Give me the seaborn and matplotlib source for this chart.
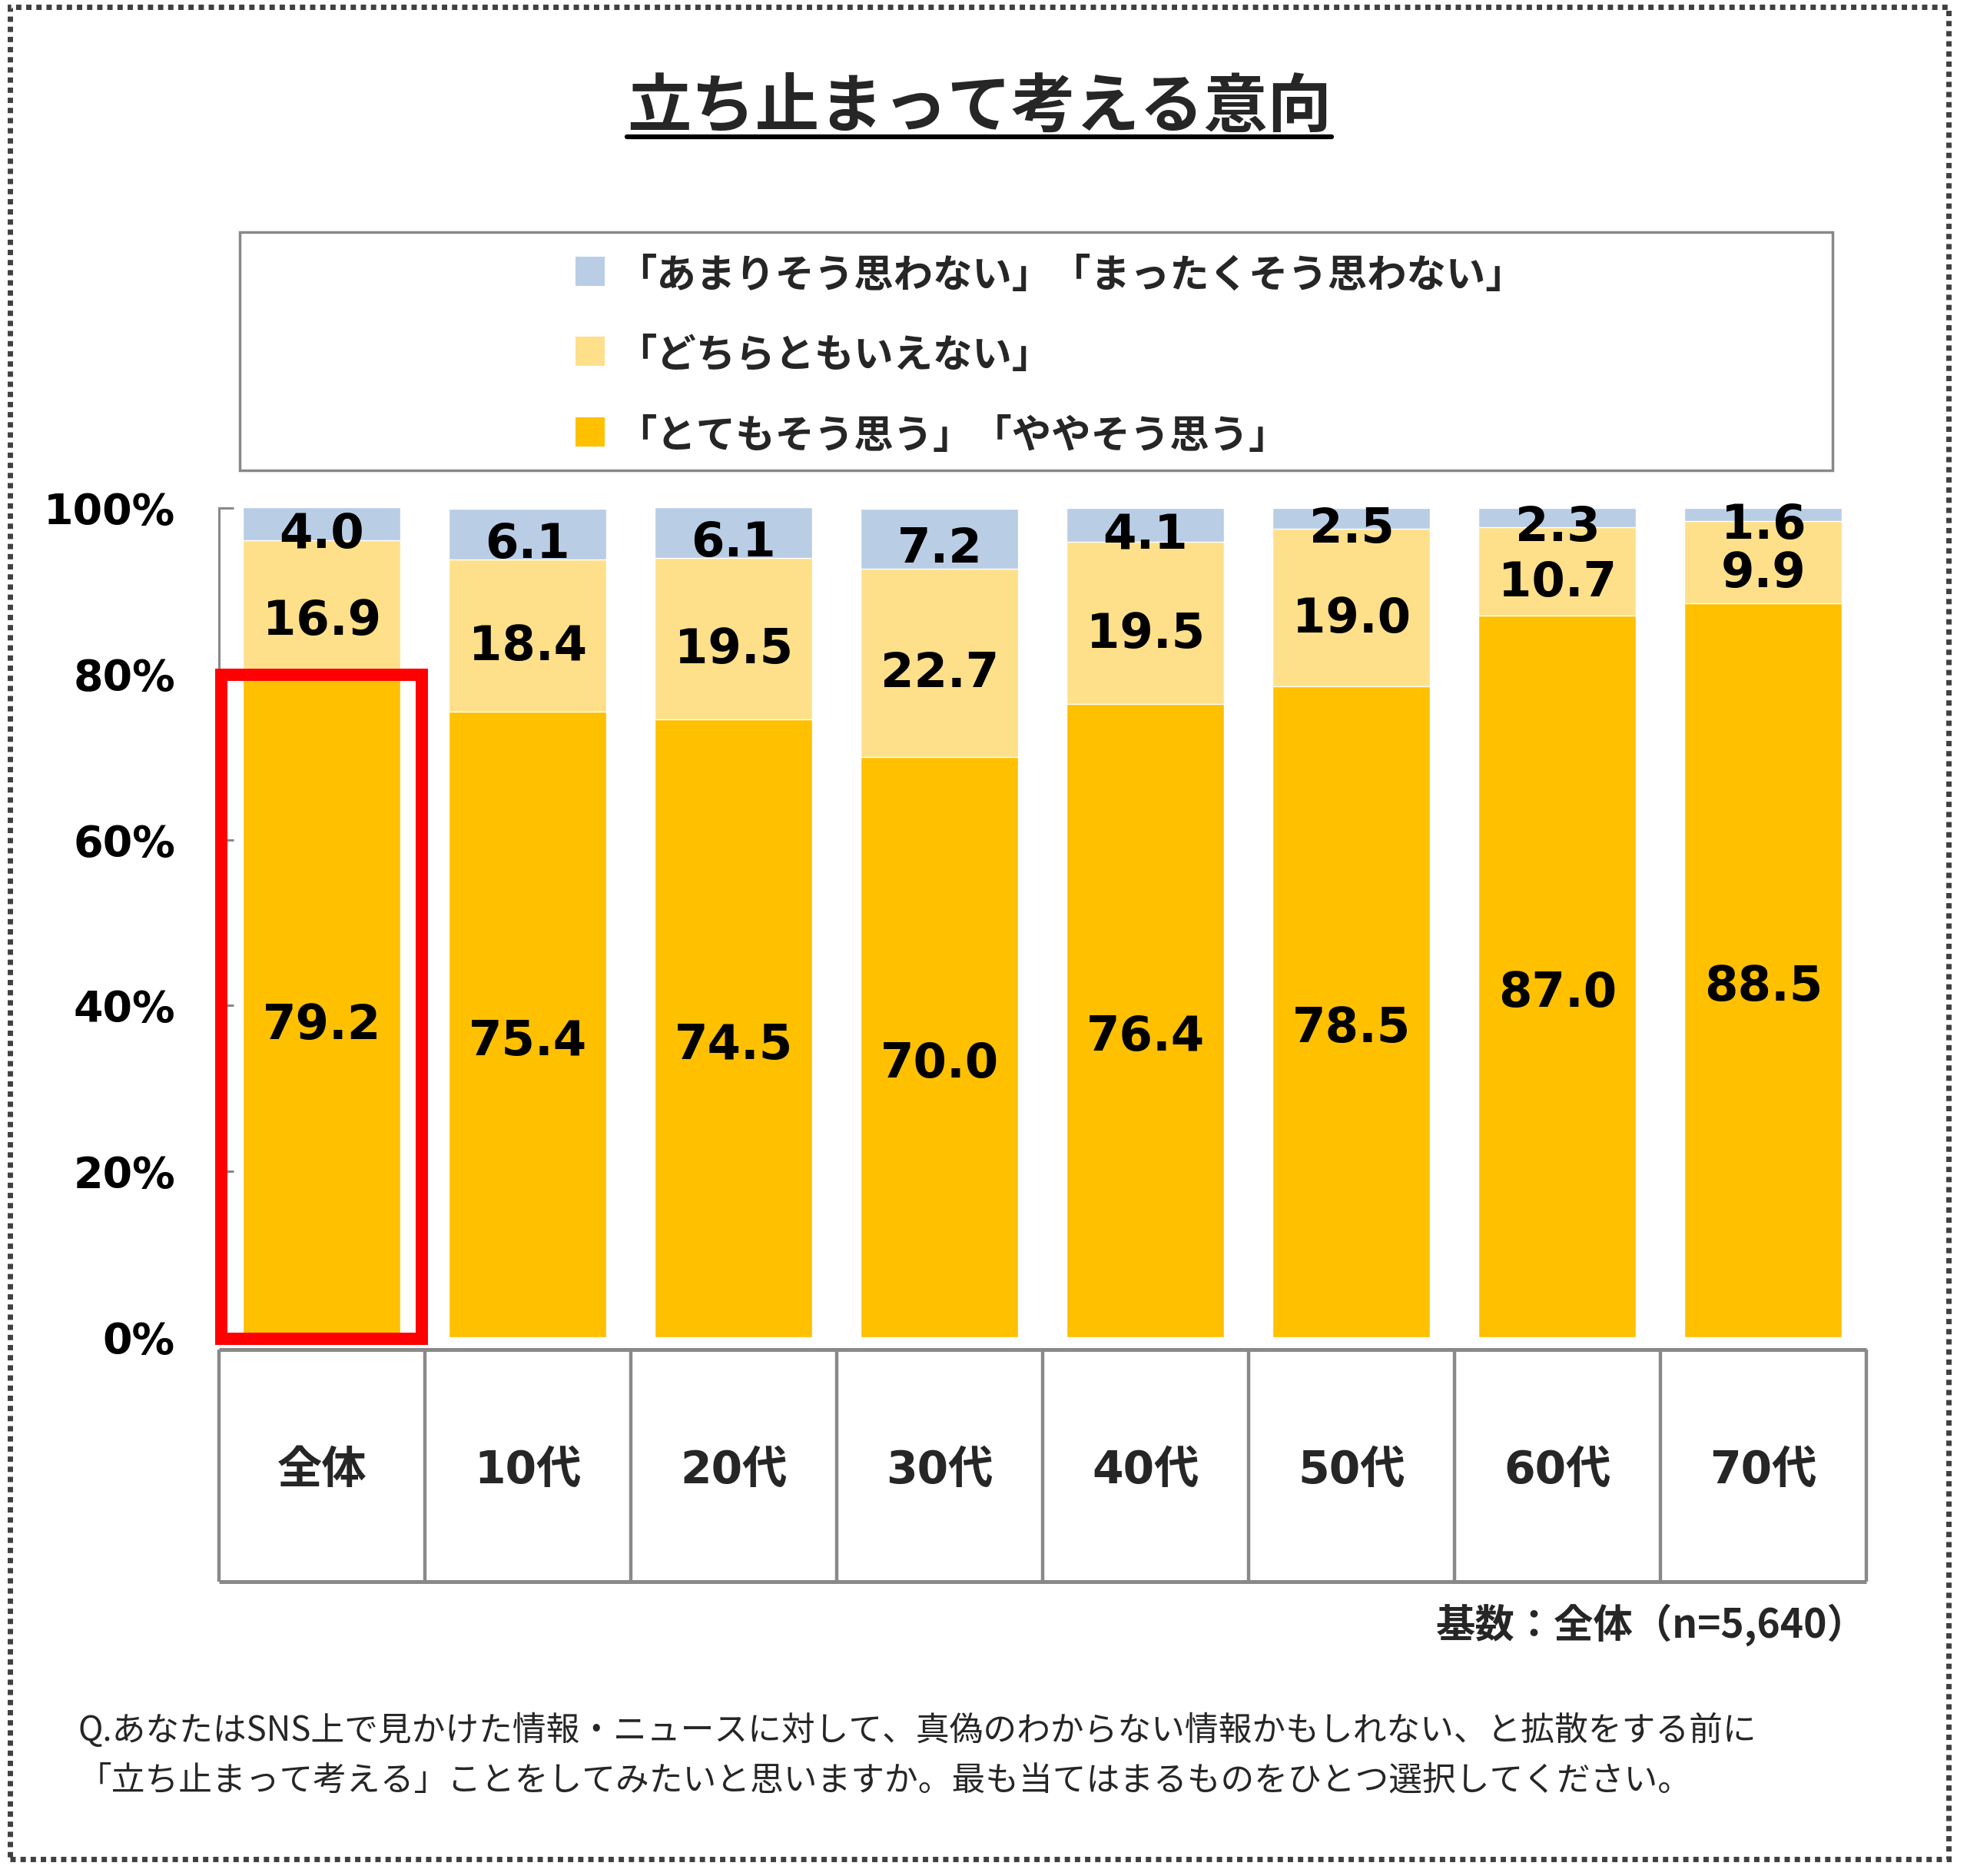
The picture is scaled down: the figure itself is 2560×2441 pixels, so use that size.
import pandas as pd
import seaborn as sns
import matplotlib.pyplot as plt
from matplotlib.patches import Rectangle
from matplotlib.lines import Line2D

# data
categories = ["全体", "10代", "20代", "30代", "40代", "50代", "60代", "70代"]
agree = [79.2, 75.4, 74.5, 70.0, 76.4, 78.5, 87.0, 88.5]
neutral = [16.9, 18.4, 19.5, 22.7, 19.5, 19.0, 10.7, 9.9]
disagree = [4.0, 6.1, 6.1, 7.2, 4.1, 2.5, 2.3, 1.6]

series_labels = ["「あまりそう思わない」「まったくそう思わない」",
                 "「どちらともいえない」",
                 "「とてもそう思う」「ややそう思う」"]
series_colors = ["#B9CDE5", "#FFE08A", "#FFC000"]
y_ticks = [0, 20, 40, 60, 80, 100]
y_tick_labels = ["0%", "20%", "40%", "60%", "80%", "100%"]

title = "立ち止まって考える意向"
base_note = "基数：全体（n=5,640）"
question = ["Q.あなたはSNS上で見かけた情報・ニュースに対して、真偽のわからない情報かもしれない、と拡散をする前に",
            "「立ち止まって考える」ことをしてみたいと思いますか。最も当てはまるものをひとつ選択してください。"]

df = pd.DataFrame({"cat": categories, "agree": agree, "neutral": neutral, "disagree": disagree})
df["lvl1"] = df["agree"]
df["lvl2"] = df["agree"] + df["neutral"]
df["lvl3"] = df["lvl2"] + df["disagree"]

sns.set_theme(style="white")
plt.rcParams["font.family"] = ["DejaVu Sans", "Noto Sans CJK JP"]
JP = ["Noto Sans CJK JP", "DejaVu Sans"]
GREY = "#898989"

fig = plt.figure(figsize=(25.6, 24.41), dpi=100)
ax = fig.add_axes([0.1113, 0.2872, 0.8375, 0.4420])

# stacked bars: draw cumulative totals back to front
for col, color in zip(["lvl3", "lvl2", "lvl1"], series_colors):
    sns.barplot(data=df, x="cat", y=col, order=categories, color=color,
                saturation=1, width=0.765, errorbar=None, ax=ax)

ax.set_xlim(-0.5, 7.5)
ax.set_ylim(0, 100)
ax.set_xticks([])
ax.set_xlabel("")
ax.set_ylabel("")
ax.set_yticks(y_ticks)
ax.set_yticklabels(y_tick_labels, fontsize=40, fontweight="bold", color="black")
ax.tick_params(axis="y", direction="in", length=13.5, width=2.2, color=GREY, pad=41, left=True)
for s in ["top", "right", "bottom"]:
    ax.spines[s].set_visible(False)
ax.spines["left"].set_color(GREY)
ax.spines["left"].set_linewidth(2.2)

lab = dict(ha="center", va="center_baseline", fontsize=45, fontweight="bold", color="black", zorder=6)
for i in range(len(categories)):
    ax.text(i, agree[i] / 2 - 1.5, f"{agree[i]:.1f}", **lab)
    ax.text(i, agree[i] + neutral[i] / 2 - 0.8, f"{neutral[i]:.1f}", **lab)
    ax.text(i, agree[i] + neutral[i] + disagree[i] / 2 - 0.7, f"{disagree[i]:.1f}", **lab)

# highlight box around the total bar
ax.add_patch(Rectangle((-0.49, -0.2), 0.975, 80.1, fill=False, ec="#FF0000",
                       lw=11.5, clip_on=False, zorder=5))

# category table under the bars
axt = fig.add_axes([0.1113, 0.1569, 0.8375, 0.1237])
axt.set_xlim(-0.5, 7.5)
axt.set_ylim(0, 1)
axt.axis("off")
axt.vlines([i - 0.5 for i in range(len(categories) + 1)], 0, 1, color=GREY, lw=3.2, clip_on=False)
axt.hlines([0, 1], -0.5, 7.5, color=GREY, lw=3.6, clip_on=False)
for i, c in enumerate(categories):
    axt.text(i, 0.5, c, ha="center", va="center_baseline", fontsize=42,
             fontweight="bold", family=["DejaVu Sans", "Noto Sans CJK JP"])

# legend box
fig.add_artist(Rectangle((0.1219, 0.7493), 0.8098, 0.127, transform=fig.transFigure,
                         fill=False, ec=GREY, lw=2.5))
for y, color, text in zip([0.8554, 0.8128, 0.7698], series_colors, series_labels):
    fig.add_artist(Rectangle((0.2926, y - 0.0078), 0.0148, 0.0156, transform=fig.transFigure,
                             fc=color, ec="none"))
    fig.text(0.3137, y, text, ha="left", va="center_baseline", fontsize=37,
             fontweight="bold", family=JP)

# title with underline
t = fig.text(0.498, 0.9463, title, ha="center", va="center_baseline", fontsize=60,
             fontweight="bold", family=JP)
fig.canvas.draw()
bb = t.get_window_extent().transformed(fig.transFigure.inverted())
fig.add_artist(Line2D([bb.x0, bb.x1], [0.9271, 0.9271], transform=fig.transFigure,
                      color="black", lw=4.5))

fig.text(0.9492, 0.1361, base_note, ha="right", va="center_baseline", fontsize=37,
         fontweight="bold", family=JP)
fig.text(0.0398, 0.0795, question[0], ha="left", va="center_baseline", fontsize=31.5, family=JP)
fig.text(0.0398, 0.0530, question[1], ha="left", va="center_baseline", fontsize=31.5, family=JP)

# dotted outer frame
fig.add_artist(Rectangle((0.00508, 0.0090), 0.9855, 0.9873, transform=fig.transFigure,
                         fill=False, ec="#404040", lw=5, ls=(0, (1, 0.9))))

fig.savefig("out.png", dpi=100)
